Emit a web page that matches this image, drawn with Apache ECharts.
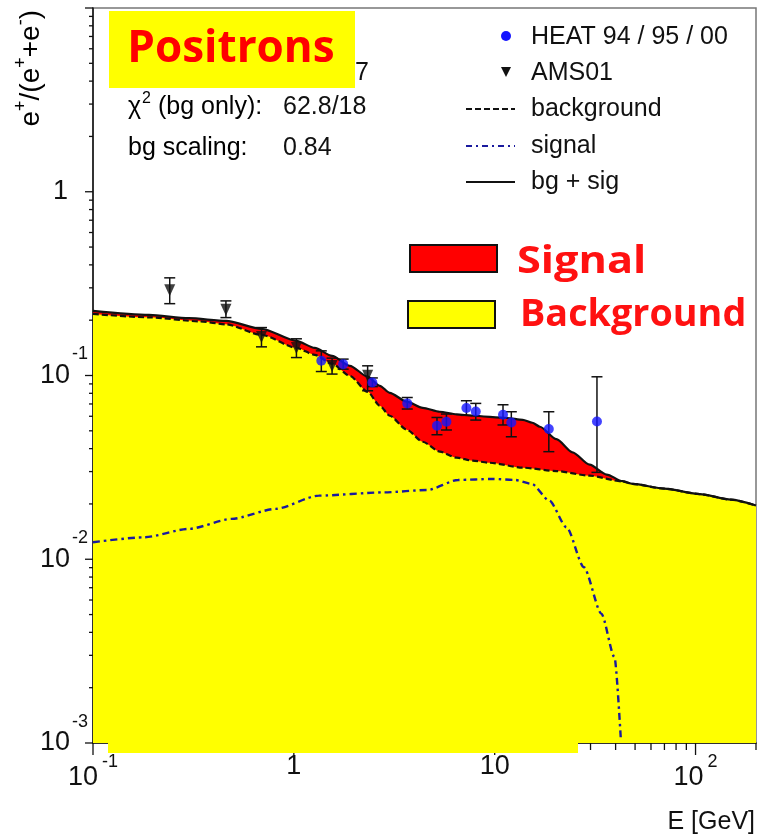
<!DOCTYPE html>
<html>
<head>
<meta charset="utf-8">
<script src="https://cdn.jsdelivr.net/npm/echarts@6/dist/echarts.min.js"></script>
<style>
  html, body { margin: 0; padding: 0; background: #fff; }
  #chart { width: 768px; height: 840px; }
</style>
</head>
<body>
<div id="chart"></div>
<script>
// ---- HEAT 94 / 95 / 00 positron fraction ----
const heatE  = [1.37, 1.76, 2.46, 3.67, 5.16, 5.75, 7.23, 8.05, 11.0, 12.1, 18.6, 32.3];
const heatF  = [0.1202, 0.1153, 0.0916, 0.0705, 0.0533, 0.0560, 0.0665, 0.0637, 0.0611, 0.0555, 0.0511, 0.0562];
const heatLo = [0.1051, 0.1083, 0.0870, 0.0657, 0.0476, 0.0505, 0.0607, 0.0572, 0.0538, 0.0464, 0.0385, 0.0297];
const heatHi = [0.1362, 0.1228, 0.0970, 0.0759, 0.0591, 0.0617, 0.0729, 0.0705, 0.0693, 0.0635, 0.0635, 0.0984];

// ---- AMS01 positron fraction ----
const amsE  = [0.241, 0.459, 0.690, 1.03, 1.55, 2.33];
const amsF  = [0.291, 0.228, 0.162, 0.141, 0.1125, 0.0996];
const amsLo = [0.246, 0.2066, 0.1432, 0.1252, 0.1018, 0.0826];
const amsHi = [0.340, 0.2547, 0.1823, 0.1584, 0.1243, 0.1129];

// ---- model curves ----
const bgE = [0.1, 0.19, 0.34, 0.46, 0.69, 1.03, 1.27, 1.55, 1.9, 2.33, 2.68, 3.0, 3.65, 4.38, 5.33, 6.47, 7.77, 9.44, 13.8, 20.3, 29.7, 43.3, 48.6, 70, 105, 150, 200];
const bgF = [0.2164, 0.2072, 0.1971, 0.1898, 0.1664, 0.1414, 0.1296, 0.1158, 0.0996, 0.0815, 0.0684, 0.0604, 0.0507, 0.0436, 0.0385, 0.0357, 0.0344, 0.0335, 0.0315, 0.0302, 0.0285, 0.0265, 0.0257, 0.02422, 0.02262, 0.02111, 0.0196];

const totE = [0.1, 0.19, 0.30, 0.46, 0.69, 1.03, 1.27, 1.55, 1.9, 2.33, 2.68, 3.0, 3.65, 4.38, 5.33, 6.47, 7.77, 11.5, 13.8, 15.4, 16.8, 20.3, 24.4, 29.7, 36.1, 43.3, 48.6, 70, 105, 150, 200];
const totF = [0.2247, 0.2138, 0.2050, 0.1983, 0.1794, 0.1543, 0.1414, 0.1279, 0.1129, 0.0985, 0.0879, 0.0805, 0.0720, 0.0667, 0.0635, 0.0615, 0.0604, 0.0587, 0.0574, 0.0553, 0.0526, 0.0450, 0.0382, 0.0327, 0.0289, 0.0266, 0.0257, 0.02422, 0.02262, 0.02111, 0.0196];

const sigE = [0.1, 0.18, 0.30, 0.49, 0.81, 1.33, 2.81, 4.63, 6.57, 9.77, 12.6, 15.3, 18.7, 22.8, 27.8, 34.0, 39.5, 42.5];
const sigF = [0.01238, 0.01317, 0.01463, 0.01658, 0.01879, 0.02219, 0.02312, 0.02383, 0.02701, 0.02735, 0.02701, 0.0257, 0.02085, 0.01492, 0.00905, 0.00505, 0.00293, 0.00103];

// ---- axes ----
const xRange = [0.1, 200];
const yRange = [0.001, 10];
const decadesX = [-1, 0, 1, 2];
const decadesY = [-3, -2, -1, 0, 1];

// ---- fit summary ----
const statLabels = ['{n|χ}{s|2}{n| (bg only):}', '{n|bg scaling:}'];
const statValues = ['62.8/18', '0.84'];

const FONT = "'Liberation Sans', Arial, Helvetica, sans-serif";
const CARTOON = "'Open Sans', 'Liberation Sans', Arial, sans-serif";

const pairs = (xs, ys) => xs.map((x, i) => [x, ys[i]]);

// tick values: every integer multiple inside each decade
function tickValues(decades, range) {
  const out = [];
  decades.forEach(d => {
    for (let m = 1; m <= 9; m++) {
      const v = m * Math.pow(10, d);
      if (v >= range[0] * 0.999 && v <= range[1] * 1.001) out.push([v, m === 1 ? 1 : 0]);
    }
  });
  return out;
}
const xTicks = tickValues(decadesX, xRange).map(t => [t[0], yRange[0], t[1]]);
const yTicks = tickValues(decadesY, yRange).map(t => [xRange[0], t[0], t[1]]);

function decadeText(v, pad) {
  const lg = Math.log10(v);
  const e = Math.round(lg);
  if (Math.abs(lg - e) > 1e-6) return '';
  if (e === 0) return pad ? '{n|1}{g| }' : '{n|1}';
  if (e === 1) return pad ? '{n|10}{g| }' : '{n|10}';
  return '{n|10}{s|' + e + '}';
}

const labelRich = {
  n: { fontFamily: FONT, fontSize: 27, color: '#111' },
  s: { fontFamily: FONT, fontSize: 18, color: '#111', padding: [0, 0, 32, 4] },
  g: { fontFamily: FONT, fontSize: 18, width: 19 }
};
const yLabelRich = {
  n: { fontFamily: FONT, fontSize: 27, color: '#111' },
  s: { fontFamily: FONT, fontSize: 18, color: '#111', padding: [0, 0, 42, 2], width: 16 },
  g: { fontFamily: FONT, fontSize: 18, width: 20 }
};
const textRich = {
  n: { fontFamily: FONT, fontSize: 25, color: '#111' },
  s: { fontFamily: FONT, fontSize: 16, color: '#111', padding: [0, 0, 16, 1] }
};

const errData = pairs(heatE, heatLo).map((p, i) => [p[0], p[1], heatHi[i]])
  .concat(pairs(amsE, amsLo).map((p, i) => [p[0], p[1], amsHi[i]]));

const chart = echarts.init(document.getElementById('chart'), null, { renderer: 'canvas' });

const curve = { showSymbol: false, smooth: 0.25, smoothMonotone: 'x' };

const option = {
  animation: false,
  backgroundColor: '#ffffff',
  grid: { left: 93, right: 12, top: 8, bottom: 97, show: true, borderColor: '#777', borderWidth: 1.5, backgroundColor: 'transparent' },
  xAxis: {
    type: 'log', logBase: 10, min: xRange[0], max: xRange[1],
    axisLine: { show: true, lineStyle: { color: '#111', width: 1.5 } },
    axisTick: { show: false }, splitLine: { show: false }, minorTick: { show: false },
    axisLabel: { margin: 10, showMaxLabel: false, formatter: v => decadeText(v, false), rich: labelRich }
  },
  yAxis: {
    type: 'log', logBase: 10, min: yRange[0], max: yRange[1],
    axisLine: { show: true, lineStyle: { color: '#111', width: 1.5 } },
    axisTick: { show: false }, splitLine: { show: false }, minorTick: { show: false },
    axisLabel: { margin: 5, showMaxLabel: false, formatter: v => decadeText(v, true), rich: yLabelRich }
  },
  series: [
    Object.assign({ // signal band: filled under bg + sig
      name: 'bg + sig fill', type: 'line', data: pairs(totE, totF),
      lineStyle: { width: 0 }, areaStyle: { color: '#ff0000', opacity: 1, origin: 'start' }, z: 1
    }, curve),
    Object.assign({ // background: yellow fill with dashed outline
      name: 'background', type: 'line', data: pairs(bgE, bgF),
      lineStyle: { color: '#111', width: 2.2, type: [6, 3] }, areaStyle: { color: '#ffff00', opacity: 1, origin: 'start' }, z: 2
    }, curve),
    Object.assign({
      name: 'signal', type: 'line', data: pairs(sigE, sigF),
      lineStyle: { color: '#1a1a9e', width: 2.4, type: [7, 4, 2.5, 4] }, z: 3
    }, curve),
    Object.assign({
      name: 'bg + sig', type: 'line', data: pairs(totE, totF),
      lineStyle: { color: '#111', width: 2.2 }, z: 4
    }, curve),
    { // error bars
      name: 'errors', type: 'custom', data: errData, z: 5, clip: false,
      renderItem: (params, api) => {
        const x = api.value(0), lo = api.value(1), hi = api.value(2);
        const a = api.coord([x, hi]), b = api.coord([x, lo]);
        const w = 5.5, st = { stroke: '#111', lineWidth: 1.5 };
        return { type: 'group', children: [
          { type: 'line', shape: { x1: a[0], y1: a[1], x2: b[0], y2: b[1] }, style: st },
          { type: 'line', shape: { x1: a[0] - w, y1: a[1], x2: a[0] + w, y2: a[1] }, style: st },
          { type: 'line', shape: { x1: b[0] - w, y1: b[1], x2: b[0] + w, y2: b[1] }, style: st }
        ] };
      }
    },
    {
      name: 'AMS01', type: 'scatter', data: pairs(amsE, amsF), symbol: 'triangle', symbolRotate: 180, symbolSize: [11, 12],
      itemStyle: { color: '#111' }, z: 6
    },
    {
      name: 'HEAT 94 / 95 / 00', type: 'scatter', data: pairs(heatE, heatF), symbol: 'circle', symbolSize: 10,
      itemStyle: { color: '#1414ff' }, z: 7
    },
    { // x axis ticks (outside, below)
      name: 'xticks', type: 'custom', data: xTicks, z: 8, clip: false, silent: true,
      renderItem: (params, api) => {
        const p = api.coord([api.value(0), api.value(1)]);
        const len = api.value(2) ? 12 : 7;
        return { type: 'line', shape: { x1: p[0], y1: p[1], x2: p[0], y2: p[1] + len }, style: { stroke: '#111', lineWidth: 1.3 } };
      }
    },
    { // y axis ticks (outside, left)
      name: 'yticks', type: 'custom', data: yTicks, z: 8, clip: false, silent: true,
      renderItem: (params, api) => {
        const p = api.coord([api.value(0), api.value(1)]);
        const len = api.value(2) ? 8 : 4;
        return { type: 'line', shape: { x1: p[0] - len, y1: p[1], x2: p[0], y2: p[1] }, style: { stroke: '#111', lineWidth: 1.3 } };
      }
    }
  ],
  graphic: [
    // axis titles
    { type: 'text', x: 31, y: 10, rotation: Math.PI / 2, z: 50,
      style: { text: '{n|e}{s|+}{n|/(e}{s|+}{n|+e}{s|-}{n|)}', align: 'right', verticalAlign: 'middle',
        rich: { n: { fontFamily: FONT, fontSize: 28, color: '#111' }, s: { fontFamily: FONT, fontSize: 18, color: '#111', padding: [0, 0, 20, 0] } } } },
    { type: 'text', x: 755, y: 822, z: 50,
      style: { text: 'E [GeV]', font: '25px ' + FONT, fill: '#111', align: 'right', verticalAlign: 'middle' } },

    // fit summary (first row sits under the title box)
    { type: 'text', x: 128, y: 73, z: 50, style: { text: '{n|χ}{s|2}{n| (bg + sig):}', rich: textRich, verticalAlign: 'middle' } },
    { type: 'text', x: 369, y: 73, z: 50, style: { text: '/17', font: '25px ' + FONT, fill: '#111', align: 'right', verticalAlign: 'middle' } },
    { type: 'text', x: 128, y: 107, z: 50, style: { text: statLabels[0], rich: textRich, verticalAlign: 'middle' } },
    { type: 'text', x: 283, y: 107, z: 50, style: { text: statValues[0], font: '25px ' + FONT, fill: '#111', verticalAlign: 'middle' } },
    { type: 'text', x: 128, y: 148, z: 50, style: { text: statLabels[1], rich: textRich, verticalAlign: 'middle' } },
    { type: 'text', x: 283, y: 148, z: 50, style: { text: statValues[1], font: '25px ' + FONT, fill: '#111', verticalAlign: 'middle' } },

    // title box
    { type: 'rect', z: 60, shape: { x: 109, y: 11, width: 246, height: 77 }, style: { fill: '#ffff00' } },
    { type: 'text', x: 231, y: 49, z: 61,
      style: { text: 'Positrons', font: 'bold 44px ' + CARTOON, fill: '#ff0000', align: 'center', verticalAlign: 'middle' } },

    // legend
    { type: 'circle', z: 50, shape: { cx: 506, cy: 36, r: 5 }, style: { fill: '#1414ff' } },
    { type: 'text', x: 531, y: 37, z: 50, style: { text: 'HEAT 94 / 95 / 00', font: '25px ' + FONT, fill: '#111', verticalAlign: 'middle' } },
    { type: 'polygon', z: 50, shape: { points: [[501, 67], [511, 67], [506, 77]] }, style: { fill: '#111' } },
    { type: 'text', x: 531, y: 73, z: 50, style: { text: 'AMS01', font: '25px ' + FONT, fill: '#111', verticalAlign: 'middle' } },
    { type: 'line', z: 50, shape: { x1: 466, y1: 109, x2: 515, y2: 109 }, style: { stroke: '#111', lineWidth: 2, lineDash: [6, 3] } },
    { type: 'text', x: 531, y: 109, z: 50, style: { text: 'background', font: '25px ' + FONT, fill: '#111', verticalAlign: 'middle' } },
    { type: 'line', z: 50, shape: { x1: 466, y1: 146, x2: 515, y2: 146 }, style: { stroke: '#1a1a9e', lineWidth: 2, lineDash: [6, 4, 2, 4] } },
    { type: 'text', x: 531, y: 146, z: 50, style: { text: 'signal', font: '25px ' + FONT, fill: '#111', verticalAlign: 'middle' } },
    { type: 'line', z: 50, shape: { x1: 466, y1: 182, x2: 515, y2: 182 }, style: { stroke: '#111', lineWidth: 2 } },
    { type: 'text', x: 531, y: 182, z: 50, style: { text: 'bg + sig', font: '25px ' + FONT, fill: '#111', verticalAlign: 'middle' } },

    // filled-region key
    { type: 'rect', z: 50, shape: { x: 410, y: 245, width: 87, height: 27 }, style: { fill: '#ff0000', stroke: '#111', lineWidth: 2 } },
    { type: 'text', x: 517, y: 262, z: 50, scaleX: 1.17,
      style: { text: 'Signal', font: 'bold 37px ' + CARTOON, fill: '#ff1111', verticalAlign: 'middle' } },
    { type: 'rect', z: 50, shape: { x: 408, y: 301, width: 87, height: 27 }, style: { fill: '#ffff00', stroke: '#111', lineWidth: 2 } },
    { type: 'text', x: 520, y: 315, z: 50, scaleX: 1.02,
      style: { text: 'Background', font: 'bold 37px ' + CARTOON, fill: '#ff1111', verticalAlign: 'middle' } },

    // yellow strip below the lower frame
    { type: 'rect', z: 70, shape: { x: 108, y: 742, width: 470, height: 11 }, style: { fill: '#ffff00' } }
  ]
};

chart.setOption(option);
</script>
</body>
</html>
